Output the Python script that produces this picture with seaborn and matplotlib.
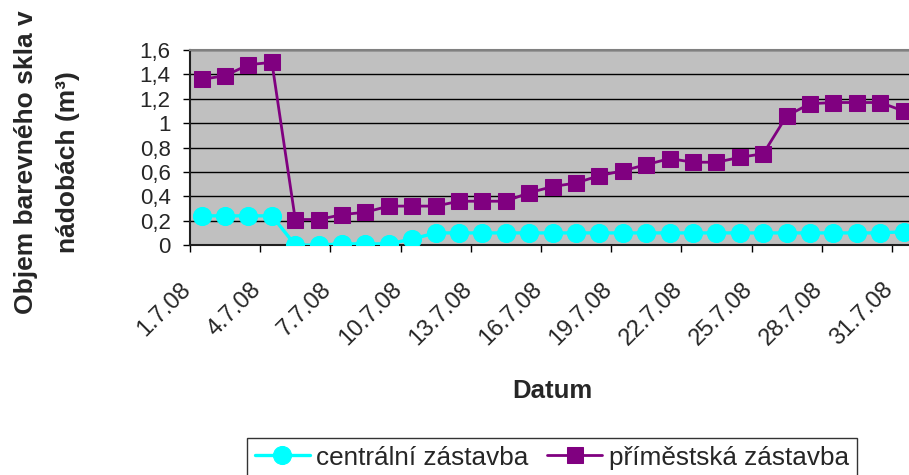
import numpy as np
import pandas as pd
import matplotlib
matplotlib.use("Agg")
import matplotlib.pyplot as plt
import matplotlib.transforms as mtransforms
import seaborn as sns

dates = [f"{d}.7.08" for d in range(1, 32)]
centralni = [0.24, 0.24, 0.24, 0.24, 0.0, 0.0, 0.01, 0.01, 0.01, 0.05,
             0.10, 0.10, 0.10, 0.10, 0.10, 0.10, 0.10, 0.10, 0.10, 0.10,
             0.10, 0.10, 0.10, 0.10, 0.10, 0.10, 0.10, 0.10, 0.10, 0.10, 0.11]
primestska = [1.36, 1.39, 1.48, 1.50, 0.21, 0.21, 0.25, 0.27, 0.32, 0.32,
              0.32, 0.36, 0.36, 0.36, 0.43, 0.48, 0.51, 0.57, 0.61, 0.66,
              0.71, 0.68, 0.68, 0.72, 0.75, 1.06, 1.16, 1.17, 1.17, 1.17, 1.10]
y_ticks = [0, 0.2, 0.4, 0.6, 0.8, 1.0, 1.2, 1.4, 1.6]

df = pd.DataFrame({"idx": np.arange(len(dates)), "datum": dates,
                   "centrální zástavba": centralni,
                   "příměstská zástavba": primestska})

sns.set_style("white")
plt.rcParams["font.family"] = ["Liberation Sans", "DejaVu Sans"]

fig = plt.figure(figsize=(9.09, 4.75), dpi=100)
ax = fig.add_axes([0.209, 0.484, 0.798, 0.4105])
ax.set_facecolor("#C0C0C0")

sns.lineplot(data=df, x="idx", y="centrální zástavba", ax=ax, color="#00FFFF",
             marker="o", markersize=13, markeredgecolor="#00FFFF", linewidth=2.4,
             label="centrální zástavba", zorder=3)
sns.lineplot(data=df, x="idx", y="příměstská zástavba", ax=ax, color="#800080",
             marker="s", markersize=11, markeredgecolor="#800080", linewidth=2,
             label="příměstská zástavba", zorder=4)

ax.set_xlim(-0.5, len(dates) - 0.5)
ax.set_ylim(0, 1.6)
ax.set_yticks(y_ticks)
ax.set_yticklabels([("%g" % v).replace(".", ",") for v in y_ticks], fontsize=16)
for v in y_ticks[1:]:
    ax.axhline(v, color="black", linewidth=1, zorder=1)

# date labels every third day, tick marks between categories
lab_idx = list(range(0, len(dates), 3))
ax.set_xticks(lab_idx)
ax.set_xticks(np.arange(-0.5, len(dates), 3), minor=True)
ax.tick_params(axis="x", which="major", length=0, pad=29.5)
ax.tick_params(axis="x", which="minor", length=5, width=1, color="black",
               direction="out", bottom=True)
ax.tick_params(axis="y", length=5, width=1, color="black", direction="out",
               left=True, pad=9)
ax.set_xticklabels([dates[i] for i in lab_idx], rotation=45, ha="right", va="center",
                   rotation_mode="anchor", fontsize=17)
shift = mtransforms.ScaledTranslation(-14 / 100, 0, fig.dpi_scale_trans)
for t in ax.get_xticklabels():
    t.set_transform(t.get_transform() + shift)

for side in ["left", "bottom"]:
    ax.spines[side].set_color("#202020")
    ax.spines[side].set_linewidth(1.5)
ax.spines["top"].set_color("#808080")
ax.spines["top"].set_linewidth(1.5)
ax.spines["right"].set_visible(False)

ax.set_xlabel("Datum", fontsize=18.5, fontweight="bold", va="top")
ax.xaxis.set_label_coords(0.5, -0.687)
ax.set_ylabel("Objem barevného skla v\nnádobách (m³)", fontsize=19,
              fontweight="bold", linespacing=1.95)
ax.yaxis.set_label_coords(-0.152, 0.426)

ax.get_legend().remove()
h, l = ax.get_legend_handles_labels()
leg = fig.legend(h, l, loc="upper left", bbox_to_anchor=(247 / 909, 1 - 437.7 / 475),
                 ncol=2, fontsize=18.8, frameon=True, fancybox=False,
                 edgecolor="black", handlelength=2.1, handletextpad=0.26,
                 columnspacing=0.7, borderpad=0.3, borderaxespad=0)
leg.get_frame().set_linewidth(1)

fig.savefig("out.png", dpi=100)
